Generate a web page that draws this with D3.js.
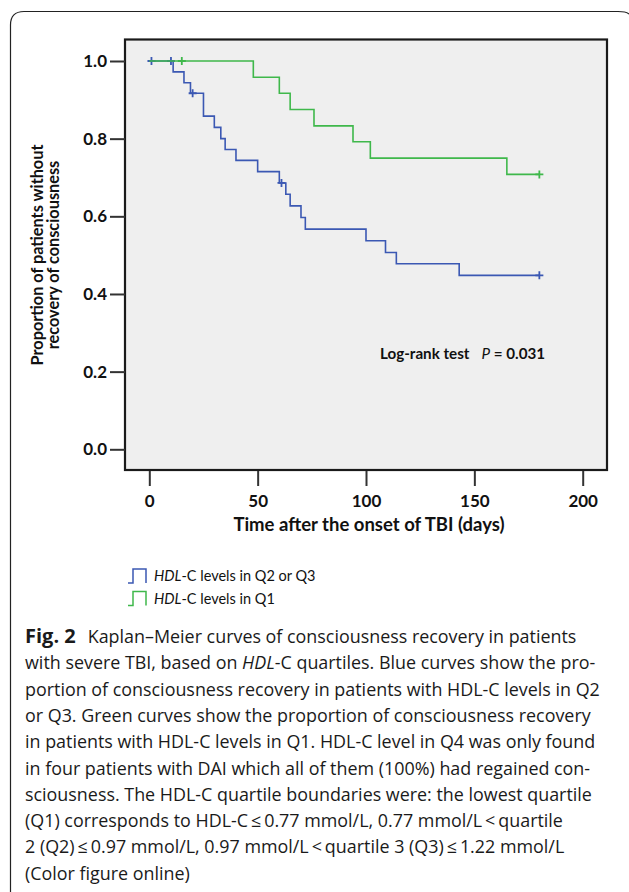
<!DOCTYPE html>
<html>
<head>
<meta charset="utf-8">
<script src="https://cdn.jsdelivr.net/npm/d3@7"></script>
<style>
  body { margin: 0; background: #fff; }
  svg { display: block; }
</style>
</head>
<body>
<div id="chart"></div>
<script>
// Kaplan-Meier step values
const blueDays = [0, 11, 16, 19, 25, 30, 33, 35, 40, 50, 60, 63, 65, 70, 72, 100, 109, 114, 143, 180];
const blueSurv = [1.0, 0.972, 0.944, 0.917, 0.858, 0.829, 0.800, 0.772, 0.744, 0.715, 0.686, 0.657, 0.627, 0.597, 0.567, 0.537, 0.507, 0.478, 0.448, 0.448];
const blueCensorDays = [1, 10, 20, 61, 180];
const blueCensorSurv = [1.0, 1.0, 0.917, 0.686, 0.448];

const greenDays = [0, 48, 60, 65, 76, 94, 102, 165, 180];
const greenSurv = [1.0, 0.958, 0.917, 0.875, 0.833, 0.792, 0.750, 0.708, 0.708];
const greenCensorDays = [15, 180];
const greenCensorSurv = [1.0, 0.708];

const xTicks = [0, 50, 100, 150, 200];
const yTicks = [0, 0.2, 0.4, 0.6, 0.8, 1.0];

const legendLabels = [["HDL", "-C levels in Q2 or Q3"], ["HDL", "-C levels in Q1"]];

// caption lines: [text, style] pieces
const captionLines = [
  [["Fig. 2", "b"], ["Kaplan\u2013Meier curves of consciousness recovery in patients", "gap"]],
  [["with severe TBI, based on ", ""], ["HDL", "i"], ["-C quartiles. Blue curves show the pro-", ""]],
  [["portion of consciousness recovery in patients with HDL-C levels in Q2", ""]],
  [["or Q3. Green curves show the proportion of consciousness recovery", ""]],
  [["in patients with HDL-C levels in Q1. HDL-C level in Q4 was only found", ""]],
  [["in four patients with DAI which all of them (100%) had regained con-", ""]],
  [["sciousness. The HDL-C quartile boundaries were: the lowest quartile", ""]],
  [["(Q1) corresponds to HDL-C\u2009\u2264\u20090.77 mmol/L, 0.77 mmol/L\u2009<\u2009quartile", ""]],
  [["2 (Q2)\u2009\u2264\u20090.97 mmol/L, 0.97 mmol/L\u2009<\u2009quartile 3 (Q3)\u2009\u2264\u20091.22 mmol/L", ""]],
  [["(Color figure online)", ""]]
];

const blueColor = "#3b58b3";
const greenColor = "#3fb84b";
const plotFont = "Lato, 'Open Sans', sans-serif";
const capFont = "'Open Sans', 'Noto Sans', sans-serif";

const W = 629, H = 892;
const svg = d3.select("#chart").append("svg")
  .attr("width", W)
  .attr("height", H);

// outer frame with rounded top corners
svg.append("path")
  .attr("d", "M10.5," + H + " V25 Q10.5,11.5 24,11.5 H618 Q626,11.5 629,14")
  .attr("fill", "none")
  .attr("stroke", "#222")
  .attr("stroke-width", 1.2);

// scales
let xScale = d3.scaleLinear().domain([0, 200]).range([149.3, 582.7]);
let yScale = d3.scaleLinear().domain([0, 1]).range([449.3, 61]);

// plot box
let box = { left: 125, top: 39.5, right: 607, bottom: 470 };
svg.append("rect")
  .attr("x", box.left)
  .attr("y", box.top)
  .attr("width", box.right - box.left)
  .attr("height", box.bottom - box.top)
  .attr("fill", "#efefef")
  .attr("stroke", "#1a1a1a")
  .attr("stroke-width", 2.2);

// y axis
let yAxis = svg.append("g")
  .attr("transform", "translate(" + box.left + ",0)")
  .call(d3.axisLeft(yScale).tickValues(yTicks).tickSize(15).tickPadding(3).tickFormat(d3.format(".1f")));
yAxis.select(".domain").remove();
yAxis.selectAll(".tick line").attr("stroke", "#333").attr("stroke-width", 2);
yAxis.selectAll(".tick text")
  .attr("font-family", plotFont)
  .attr("font-weight", "bold")
  .attr("font-size", 17)
  .attr("fill", "#111");

// x axis hanging below the box
let xAxis = svg.append("g")
  .attr("transform", "translate(0," + (box.bottom + 1) + ")")
  .call(d3.axisBottom(xScale).tickValues(xTicks).tickSize(15).tickPadding(9));
xAxis.select(".domain").remove();
xAxis.selectAll(".tick line").attr("stroke", "#333").attr("stroke-width", 2);
xAxis.selectAll(".tick text")
  .attr("font-family", plotFont)
  .attr("font-weight", "bold")
  .attr("font-size", 17)
  .attr("fill", "#111");

// axis titles
svg.append("text")
  .attr("x", 369)
  .attr("y", 531)
  .attr("text-anchor", "middle")
  .attr("font-family", plotFont)
  .attr("font-weight", "bold")
  .attr("font-size", 18.5)
  .attr("fill", "#111")
  .text("Time after the onset of TBI (days)");

let yTitle = svg.append("text")
  .attr("transform", "translate(0,255) rotate(-90)")
  .attr("text-anchor", "middle")
  .attr("font-family", plotFont)
  .attr("font-weight", "bold")
  .attr("font-size", 16.3)
  .attr("fill", "#111");
yTitle.append("tspan").attr("x", 0).attr("y", 42.5).text("Proportion of patients without");
yTitle.append("tspan").attr("x", 0).attr("y", 59).text("recovery of consciousness");

// survival curves
let stepLine = d3.line()
  .x(d => xScale(d[0]))
  .y(d => yScale(d[1]))
  .curve(d3.curveStepAfter);

function drawCurve(days, surv, cDays, cSurv, color) {
  let pts = days.map((d, i) => [d, surv[i]]);
  svg.append("path")
    .attr("d", stepLine(pts))
    .attr("fill", "none")
    .attr("stroke", color)
    .attr("stroke-width", 1.6);

  let cens = cDays.map((d, i) => [d, cSurv[i]]);
  svg.selectAll(null)
    .data(cens)
    .enter()
    .append("path")
      .attr("transform", d => "translate(" + xScale(d[0]) + "," + yScale(d[1]) + ")")
      .attr("d", "M-4,0 H4 M0,-4 V4")
      .attr("stroke", color)
      .attr("stroke-width", 1.8)
      .attr("fill", "none");
}

drawCurve(blueDays, blueSurv, blueCensorDays, blueCensorSurv, blueColor);
drawCurve(greenDays, greenSurv, greenCensorDays, greenCensorSurv, greenColor);

// log-rank annotation
let lr = svg.append("text")
  .attr("x", 380)
  .attr("y", 359)
  .attr("font-family", plotFont)
  .attr("font-size", 15.2)
  .attr("font-weight", "bold")
  .attr("fill", "#111");
lr.append("tspan").text("Log-rank test");
lr.append("tspan").attr("dx", 12).attr("font-style", "italic").attr("font-weight", "normal").text("P");
lr.append("tspan").text(" = 0.031");

// legend
let legendColors = [blueColor, greenColor];
let icon = "M0,14 H5 V0 H18 V14";
legendLabels.forEach((lab, i) => {
  let g = svg.append("g").attr("transform", "translate(128," + (569 + i * 22.5) + ")");
  g.append("path")
    .attr("d", icon)
    .attr("fill", "none")
    .attr("stroke", legendColors[i])
    .attr("stroke-width", 1.5);
  let t = g.append("text")
    .attr("x", 26)
    .attr("y", 12)
    .attr("font-family", plotFont)
    .attr("font-size", 14.5)
    .attr("fill", "#111");
  t.append("tspan").attr("font-style", "italic").text(lab[0]);
  t.append("tspan").text(lab[1]);
});

// caption
let cap = svg.append("g").attr("transform", "translate(25,0)");
captionLines.forEach((line, i) => {
  let t = cap.append("text")
    .attr("x", 0)
    .attr("y", 643 + i * 26.3)
    .attr("font-family", capFont)
    .attr("font-size", 17.9)
    .attr("fill", "#1a1a1a");
  line.forEach(p => {
    let s = t.append("tspan").text(p[0]);
    if (p[1] == "b") s.attr("font-weight", "bold").attr("font-size", 20);
    if (p[1] == "i") s.attr("font-style", "italic");
    if (p[1] == "gap") s.attr("dx", 12);
  });
});
</script>
</body>
</html>
